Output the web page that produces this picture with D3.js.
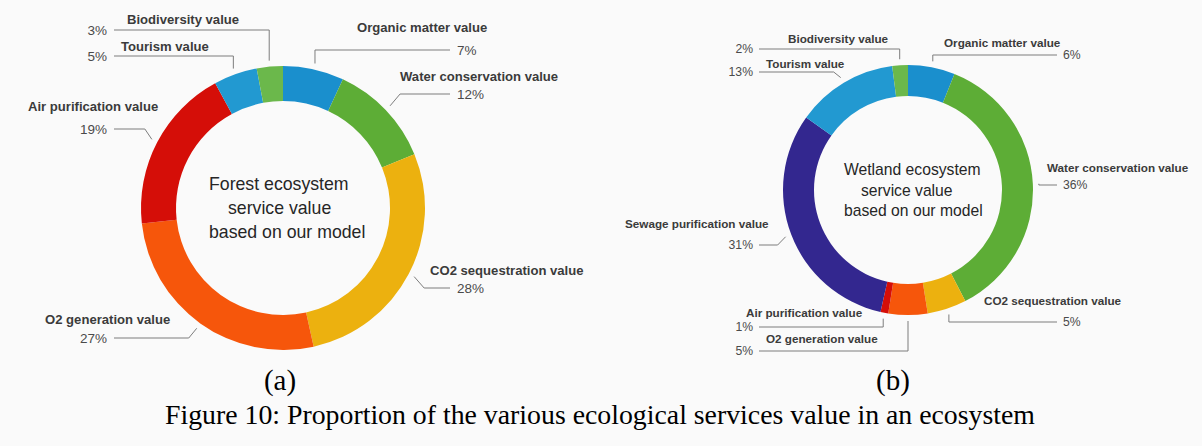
<!DOCTYPE html>
<html>
<head>
<meta charset="utf-8">
<script src="https://cdn.jsdelivr.net/npm/d3@7"></script>
<style>
  body { margin: 0; background: #fafafa; }
  svg { display: block; }
  .name { font-family: "Liberation Sans", Arial, sans-serif; font-weight: bold; fill: #3b3b3b; }
  .pct { font-family: "Liberation Sans", Arial, sans-serif; fill: #4a4a4a; }
  .leader { fill: none; stroke: #7d7d7d; stroke-width: 1; }
  .center { font-family: "Liberation Sans", Arial, sans-serif; fill: #262626; }
  .caption { font-family: "Liberation Serif", "Times New Roman", serif; fill: #000; }
</style>
</head>
<body>
<svg id="chart" width="1202" height="446"></svg>
<script>
// Data (a) forest, clockwise from 12 o'clock
const forestCategories = [
  "Organic matter value",
  "Water conservation value",
  "CO2 sequestration value",
  "O2 generation value",
  "Air purification value",
  "Tourism value",
  "Biodiversity value",
];
const forestValues = [7, 12, 28, 27, 19, 5, 3];

// Data (b) wetland, clockwise from 12 o'clock
const wetlandCategories = [
  "Organic matter value",
  "Water conservation value",
  "CO2 sequestration value",
  "O2 generation value",
  "Air purification value",
  "Sewage purification value",
  "Tourism value",
  "Biodiversity value",
];
const wetlandValues = [6, 36, 5, 5, 1, 31, 13, 2];

const forestCenterText = ["Forest ecosystem", "service value", "based on our model"];
const wetlandCenterText = ["Wetland ecosystem", "service value", "based on our model"];
const subCaptions = ["(a)", "(b)"];
const figureCaption = "Figure 10: Proportion of the various ecological services value in an ecosystem";

// Colours per category
const color = d3
  .scaleOrdinal()
  .domain([
    "Organic matter value",
    "Water conservation value",
    "CO2 sequestration value",
    "O2 generation value",
    "Air purification value",
    "Tourism value",
    "Biodiversity value",
    "Sewage purification value",
  ])
  .range(["#1a8fcd", "#5dad36", "#ecb10f", "#f6560b", "#d50e08", "#2299d1", "#6bb84b", "#33278f"]);

// Layout (side: 1 right, -1 left; knee: horizontal run of the slanted part)
const forestLayout = {
  cx: 283, cy: 208, outer: 142, inner: 107,
  lineLeft: 114, lineRight: 450, pctGap: 7,
  nameSize: 13.1, pctSize: 13.5,
  centerSize: 17.7, centerX: 209, centerY: [190, 214, 238], centerIndent: [0, 19, 0],
  labels: [
    { side: 1, lineY: 50, knee: 0, nameX: 357, nameY: 32 },
    { side: 1, lineY: 94, knee: 10, nameX: 400, nameY: 81 },
    { side: 1, lineY: 288, knee: 10, nameX: 430, nameY: 275 },
    { side: -1, lineY: 338, knee: 8, nameX: 45, nameY: 324 },
    { side: -1, lineY: 129, knee: 7, nameX: 28, nameY: 111 },
    { side: -1, lineY: 56, knee: 0, nameX: 121, nameY: 51 },
    { side: -1, lineY: 30, knee: 0, nameX: 127, nameY: 24 },
  ],
};

const wetlandLayout = {
  cx: 908, cy: 190, outer: 125, inner: 94,
  lineLeft: 759, lineRight: 1057, pctGap: 6,
  nameSize: 11.7, pctSize: 12.2,
  centerSize: 15.7, centerX: 844, centerY: [175, 196, 216], centerIndent: [0, 17, 0],
  labels: [
    { side: 1, lineY: 55, knee: 0, nameX: 944, nameY: 47 },
    { side: 1, lineY: 185, knee: 0, nameX: 1047, nameY: 172 },
    { side: 1, lineY: 322, knee: 0, nameX: 984, nameY: 305 },
    { side: -1, lineY: 351, knee: 0, nameX: 766, nameY: 343 },
    { side: -1, lineY: 327, knee: 0, nameX: 746, nameY: 317 },
    { side: -1, lineY: 245, knee: 8, nameX: 625, nameY: 228 },
    { side: -1, lineY: 72, knee: 7, nameX: 766, nameY: 68 },
    { side: -1, lineY: 49, knee: 0, nameX: 788, nameY: 43 },
  ],
};

const svg = d3.select("#chart");

function drawDonut(categories, values, centerText, layout) {
  const data = categories.map((c, i) => ({ category: c, value: values[i], label: layout.labels[i] }));

  const pie = d3.pie().sort(null).value((d) => d.value);
  const arcs = pie(data);

  const arc = d3.arc().innerRadius(layout.inner).outerRadius(layout.outer);
  const leaderArc = d3
    .arc()
    .innerRadius(layout.outer + 6)
    .outerRadius(layout.outer + 6);

  const g = svg.append("g").attr("transform", `translate(${layout.cx},${layout.cy})`);

  // Slices
  g.selectAll("path.slice")
    .data(arcs)
    .enter()
    .append("path")
    .attr("class", "slice")
    .attr("d", arc)
    .attr("fill", (d) => color(d.data.category));

  // Leader lines and labels (page coordinates)
  const labels = svg.append("g");

  arcs.forEach((d) => {
    const lab = d.data.label;
    const [sx, sy] = leaderArc.centroid(d);
    const start = [sx + layout.cx, sy + layout.cy];
    const knee = [start[0] + lab.side * lab.knee, lab.lineY];
    const end = [lab.side > 0 ? layout.lineRight : layout.lineLeft, lab.lineY];

    labels
      .append("path")
      .attr("class", "leader")
      .attr("d", d3.line()([start, knee, end]));

    labels
      .append("text")
      .attr("class", "pct")
      .attr("x", lab.side > 0 ? end[0] + layout.pctGap : end[0] - layout.pctGap)
      .attr("y", lab.lineY)
      .attr("dy", "0.36em")
      .attr("text-anchor", lab.side > 0 ? "start" : "end")
      .style("font-size", `${layout.pctSize}px`)
      .text(`${d.data.value}%`);

    labels
      .append("text")
      .attr("class", "name")
      .attr("x", lab.nameX)
      .attr("y", lab.nameY)
      .style("font-size", `${layout.nameSize}px`)
      .text(d.data.category);
  });

  // Centre text
  svg
    .append("g")
    .selectAll("text")
    .data(centerText)
    .enter()
    .append("text")
    .attr("class", "center")
    .attr("x", (d, i) => layout.centerX + layout.centerIndent[i])
    .attr("y", (d, i) => layout.centerY[i])
    .style("font-size", `${layout.centerSize}px`)
    .text((d) => d);
}

drawDonut(forestCategories, forestValues, forestCenterText, forestLayout);
drawDonut(wetlandCategories, wetlandValues, wetlandCenterText, wetlandLayout);

// Captions
svg
  .selectAll("text.sub")
  .data(subCaptions)
  .enter()
  .append("text")
  .attr("class", "caption sub")
  .attr("x", (d, i) => [280, 893][i])
  .attr("y", 390)
  .attr("text-anchor", "middle")
  .style("font-size", "29px")
  .text((d) => d);

svg
  .append("text")
  .attr("class", "caption")
  .attr("x", 600)
  .attr("y", 424)
  .attr("text-anchor", "middle")
  .style("font-size", "27.8px")
  .text(figureCaption);
</script>
</body>
</html>
